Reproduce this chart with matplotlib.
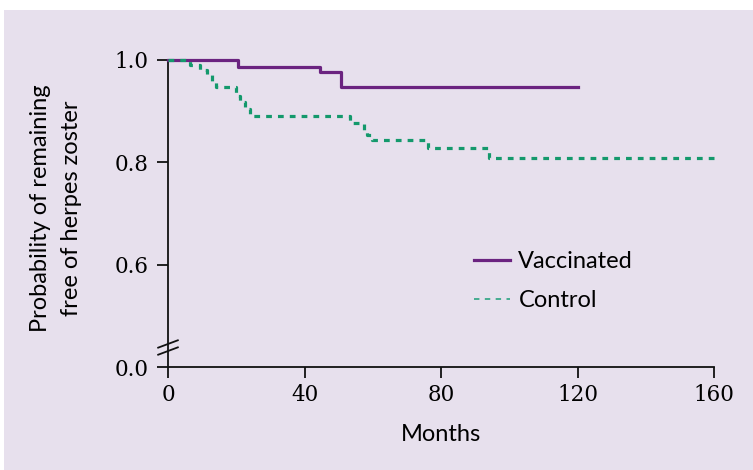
import matplotlib
matplotlib.use('Agg')
import matplotlib.pyplot as plt
from matplotlib.lines import Line2D
from matplotlib.patches import Rectangle

# Kaplan-Meier style survival data
vacc_months = [0, 20.5, 44.5, 50.6, 120]
vacc_surv = [1.0, 0.987, 0.976, 0.948, 0.948]

ctrl_months = [0, 6.4, 9.4, 11.4, 12.9, 14.1, 19.9, 21.1, 22.6, 24.0,
               53.3, 57.4, 58.3, 59.8, 76.2, 94.1, 160]
ctrl_surv = [1.0, 0.990, 0.981, 0.971, 0.959, 0.947, 0.930, 0.917, 0.904, 0.891,
             0.876, 0.862, 0.853, 0.844, 0.828, 0.808, 0.808]

# broken axis: the bottom tick sits at 0.4 but reads 0.0
ytick_vals = [0.4, 0.6, 0.8, 1.0]
ytick_labels = ['0.0', '0.6', '0.8', '1.0']
xtick_vals = [0, 40, 80, 120, 160]

purple = '#6b2380'
green = '#14996c'
bg = '#e7e0ed'

fig = plt.figure(figsize=(7.53, 4.70), dpi=100)
fig.patch.set_facecolor('white')
fig.patches.append(Rectangle((4 / 753, 0), 1, 1 - 10 / 470, transform=fig.transFigure,
                             facecolor=bg, edgecolor='none', zorder=-10))

ax = fig.add_axes([168 / 753, 1 - 367 / 470, (714 - 168) / 753, (367 - 60) / 470])
ax.patch.set_alpha(0)

ax.plot(vacc_months, vacc_surv, drawstyle='steps-post', color=purple, lw=2.3,
        clip_on=False, zorder=3)
ax.plot(ctrl_months, ctrl_surv, drawstyle='steps-post', color=green, lw=2.3,
        dashes=(1.8, 1.9), clip_on=False, zorder=4)

ax.set_xlim(0, 160)
ax.set_ylim(0.4, 1.0)
ax.set_xticks(xtick_vals)
ax.set_yticks(ytick_vals)
ax.set_yticklabels(ytick_labels)

for s in ['top', 'right']:
    ax.spines[s].set_visible(False)
for s in ['left', 'bottom']:
    ax.spines[s].set_linewidth(1.3)
    ax.spines[s].set_color('#111111')

ax.tick_params(axis='both', direction='out', length=8, width=1.3, color='#111111')
ax.tick_params(axis='y', pad=6)
ax.tick_params(axis='x', pad=4)
for lab in ax.get_xticklabels() + ax.get_yticklabels():
    lab.set_fontfamily('DejaVu Serif')
    lab.set_fontsize(15.5)

# axis break marks
for dy in [0.052, 0.075]:
    ax.plot([-0.018, 0.018], [dy - 0.012, dy + 0.012], transform=ax.transAxes,
            color='#111111', lw=1.3, clip_on=False, zorder=5)

ax.set_xlabel('Months', fontfamily='Lato', fontsize=17, labelpad=13)
fig.text(56 / 753, 1 - 208 / 470, 'Probability of remaining\nfree of herpes zoster',
         rotation=90, ha='center', va='center', fontfamily='Lato', fontsize=17,
         linespacing=1.6)

handles = [Line2D([], [], color=purple, lw=2.3),
           Line2D([], [], color='#3aa88a', lw=1.3, dashes=(3, 3))]
ax.legend(handles, ['Vaccinated', 'Control'], loc='center left',
          bbox_to_anchor=(0.538, 0.28), frameon=False, borderpad=0,
          prop={'family': 'Lato', 'size': 17}, handlelength=1.55, handletextpad=0.35,
          labelspacing=0.75)

fig.savefig('out.png', dpi=100)
